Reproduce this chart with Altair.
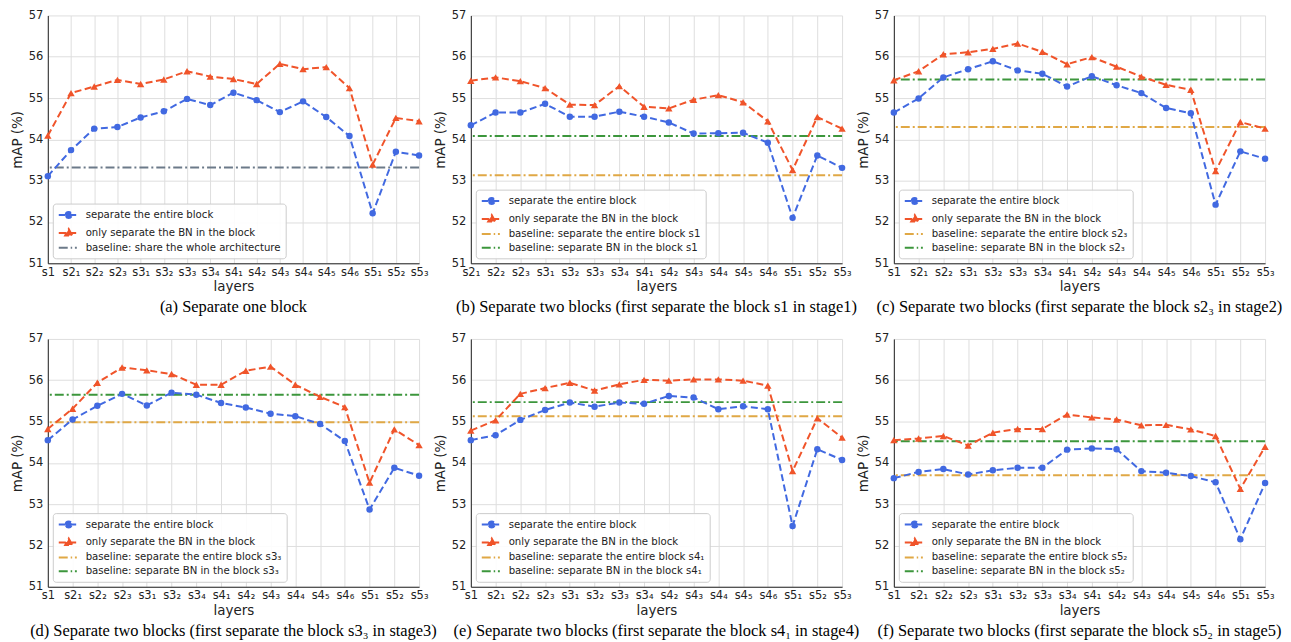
import altair as alt
import pandas as pd

# ---------------- data ----------------
ALL = ["s1", "s2₁", "s2₂", "s2₃", "s3₁", "s3₂", "s3₃", "s3₄", "s4₁", "s4₂",
       "s4₃", "s4₄", "s4₅", "s4₆", "s5₁", "s5₂", "s5₃"]

cats_a = ALL
blue_a = [53.11, 53.74, 54.26, 54.30, 54.53, 54.68, 54.98, 54.83, 55.13, 54.95,
          54.66, 54.92, 54.54, 54.08, 52.21, 53.70, 53.61]
red_a = [54.09, 55.12, 55.28, 55.44, 55.34, 55.45, 55.65, 55.52, 55.46, 55.34,
         55.83, 55.70, 55.75, 55.24, 53.39, 54.52, 54.44]
base_a = [("baseline: share the whole architecture", 53.32)]

cats_b = [c for c in ALL if c != "s1"]
blue_b = [54.34, 54.65, 54.65, 54.86, 54.55, 54.55, 54.67, 54.55, 54.41, 54.14,
          54.15, 54.16, 53.92, 52.10, 53.61, 53.31]
red_b = [55.42, 55.50, 55.41, 55.24, 54.84, 54.83, 55.29, 54.79, 54.75, 54.96,
         55.07, 54.90, 54.44, 53.26, 54.54, 54.26]
base_b = [("baseline: separate the entire block s1", 53.13),
          ("baseline: separate BN in the block s1", 54.08)]

cats_c = [c for c in ALL if c != "s2₃"]
blue_c = [54.65, 54.99, 55.50, 55.70, 55.89, 55.67, 55.59, 55.28, 55.53, 55.31,
          55.12, 54.76, 54.63, 52.42, 53.71, 53.53]
red_c = [55.43, 55.65, 56.06, 56.11, 56.19, 56.32, 56.12, 55.82, 55.99, 55.76,
         55.52, 55.32, 55.20, 53.23, 54.42, 54.26]
base_c = [("baseline: separate the entire block s2₃", 54.30),
          ("baseline: separate BN in the block s2₃", 55.45)]

cats_d = [c for c in ALL if c != "s3₃"]
blue_d = [54.55, 55.05, 55.38, 55.67, 55.39, 55.70, 55.65, 55.45, 55.34, 55.19,
          55.13, 54.94, 54.53, 52.87, 53.88, 53.69]
red_d = [54.82, 55.31, 55.94, 56.31, 56.24, 56.15, 55.89, 55.89, 56.23, 56.33,
         55.89, 55.60, 55.35, 53.52, 54.81, 54.43]
base_d = [("baseline: separate the entire block s3₃", 54.98),
          ("baseline: separate BN in the block s3₃", 55.65)]

cats_e = [c for c in ALL if c != "s4₁"]
blue_e = [54.55, 54.67, 55.04, 55.28, 55.46, 55.36, 55.46, 55.43, 55.62, 55.58,
          55.30, 55.37, 55.30, 52.47, 54.33, 54.07]
red_e = [54.78, 55.03, 55.67, 55.81, 55.94, 55.75, 55.90, 56.01, 55.99, 56.02,
         56.02, 55.99, 55.87, 53.80, 55.08, 54.61]
base_e = [("baseline: separate the entire block s4₁", 55.13),
          ("baseline: separate BN in the block s4₁", 55.47)]

cats_f = [c for c in ALL if c != "s5₂"]
blue_f = [53.63, 53.78, 53.85, 53.72, 53.82, 53.88, 53.88, 54.32, 54.35, 54.33,
          53.80, 53.76, 53.68, 53.53, 52.15, 53.51]
red_f = [54.55, 54.59, 54.65, 54.42, 54.73, 54.82, 54.82, 55.17, 55.10, 55.05,
         54.91, 54.92, 54.81, 54.65, 53.37, 54.39]
base_f = [("baseline: separate the entire block s5₂", 53.70),
          ("baseline: separate BN in the block s5₂", 54.52)]

captions = [
    "(a) Separate one block",
    "(b) Separate two blocks (first separate the block s1 in stage1)",
    "(c) Separate two blocks (first separate the block s2₃ in stage2)",
    "(d) Separate two blocks (first separate the block s3₃ in stage3)",
    "(e) Separate two blocks (first separate the block s4₁ in stage4)",
    "(f) Separate two blocks (first separate the block s5₂ in stage5)",
]

SEP = "separate the entire block"
BN = "only separate the BN in the block"

BLUE = "#4169E1"
RED = "#F0542A"
GRAY = "#6C7A89"
YELLOW = "#E0A845"
GREEN = "#3C963C"

# legend glyphs (unit = half of sqrt(symbolSize)); line spans -1..2.64, marker at 0.82
CIRCLE_PATH = "M-1,0L2.64,0M0.27,0A0.55,0.55,0,1,1,1.37,0A0.55,0.55,0,1,1,0.27,0Z"
TRI_PATH = "M-1,0L2.64,0M0.82,-0.7L1.46,0.45L0.18,0.45Z"
BASE_PATH = "M-1,0L1.45,0M1.95,0L2.3,0"

W, H = 373, 249


def panel(cats, blue, red, baselines, caption):
    rows = []
    for i, (c, b, r) in enumerate(zip(cats, blue, red)):
        rows.append({"layer": c, "idx": i, "value": b, "series": SEP})
        rows.append({"layer": c, "idx": i, "value": r, "series": BN})
    df = pd.DataFrame(rows)
    bdf = pd.DataFrame({"series": [b[0] for b in baselines],
                        "value": [b[1] for b in baselines]})

    if len(baselines) == 1:
        bcolors = [GRAY]
    else:
        bcolors = [YELLOW, GREEN]
    domain = [SEP, BN] + [b[0] for b in baselines]
    colors = [BLUE, RED] + bcolors
    dashes = [[7, 3.5], [7, 3.5]] + [[9, 3, 2, 3]] * len(baselines)
    shapes = [CIRCLE_PATH, TRI_PATH] + [BASE_PATH] * len(baselines)

    x = alt.X("layer:N", sort=cats,
              scale=alt.Scale(type="point", padding=0, domain=cats),
              axis=alt.Axis(title="layers", labelAngle=0, ticks=False,
                            labelPadding=3, titlePadding=2, grid=True))
    y = alt.Y("value:Q",
              scale=alt.Scale(domain=[51, 57], nice=False, zero=False),
              axis=alt.Axis(title="mAP (%)", values=[51, 52, 53, 54, 55, 56, 57],
                            ticks=False, labelPadding=5, titlePadding=4, grid=True))

    cscale = alt.Scale(domain=domain, range=colors)

    legend_layer = alt.Chart(df).transform_filter(
        alt.datum.series == "__none__"
    ).mark_point(filled=True, opacity=1, strokeWidth=2).encode(
        x=x, y=y,
        color=alt.Color("series:N", scale=cscale, legend=alt.Legend(title=None)),
        stroke=alt.Stroke("series:N", scale=alt.Scale(domain=domain, range=colors),
                          legend=alt.Legend(title=None)),
        shape=alt.Shape("series:N", scale=alt.Scale(domain=domain, range=shapes),
                        legend=alt.Legend(title=None)),
    )

    rules = alt.Chart(bdf).mark_rule(strokeWidth=2).encode(
        y=alt.Y("value:Q"),
        color=alt.Color("series:N", scale=cscale, legend=None),
        strokeDash=alt.StrokeDash("series:N", scale=alt.Scale(domain=domain, range=dashes),
                                  legend=None),
    )

    lines = alt.Chart(df).mark_line(strokeWidth=2).encode(
        x=x, y=y,
        color=alt.Color("series:N", scale=cscale, legend=None),
        strokeDash=alt.StrokeDash("series:N", scale=alt.Scale(domain=domain, range=dashes),
                                  legend=None),
        order=alt.Order("idx:Q"),
    )

    circles = alt.Chart(df).transform_filter(alt.datum.series == SEP).mark_circle(
        size=42, opacity=1, color=BLUE).encode(x=x, y=y)
    tris = alt.Chart(df).transform_filter(alt.datum.series == BN).mark_point(
        shape="triangle-up", filled=True, size=55, opacity=1, color=RED).encode(x=x, y=y)

    return alt.layer(legend_layer, rules, lines, circles, tris).properties(
        width=W, height=H, title=alt.TitleParams(caption))


panels = [
    panel(cats_a, blue_a, red_a, base_a, captions[0]),
    panel(cats_b, blue_b, red_b, base_b, captions[1]),
    panel(cats_c, blue_c, red_c, base_c, captions[2]),
    panel(cats_d, blue_d, red_d, base_d, captions[3]),
    panel(cats_e, blue_e, red_e, base_e, captions[4]),
    panel(cats_f, blue_f, red_f, base_f, captions[5]),
]

res = dict(color="independent", stroke="independent", shape="independent",
           strokeDash="independent")

chart = alt.concat(
    *panels, columns=3, spacing={"row": 76, "column": 52}, bounds="flush"
).resolve_scale(**res).resolve_legend(**res).properties(
    padding={"left": 2, "top": 0, "right": 0, "bottom": 0}
).configure_view(
    strokeWidth=0
).configure_axis(
    labelFont="DejaVu Sans", titleFont="DejaVu Sans", labelFontSize=11.5,
    titleFontSize=13.5, titleFontWeight="normal", labelColor="#222222",
    titleColor="#222222", domainColor="#222222", domainWidth=1,
    gridColor="#dedede", gridWidth=1
).configure_legend(
    orient="bottom-left", offset=5, padding=5, fillColor="rgba(255,255,255,0.9)",
    strokeColor="#cccccc", cornerRadius=3, labelFont="DejaVu Sans", labelFontSize=10.2,
    labelColor="#222222", symbolSize=121, symbolStrokeWidth=2, rowPadding=2,
    labelOffset=15, labelLimit=500
).configure_title(
    font="Liberation Serif", fontSize=16.5, fontWeight="normal", color="black",
    orient="bottom", anchor="middle", offset=6
)

chart.save("out.html", embed_options={"renderer": "svg", "actions": False})
